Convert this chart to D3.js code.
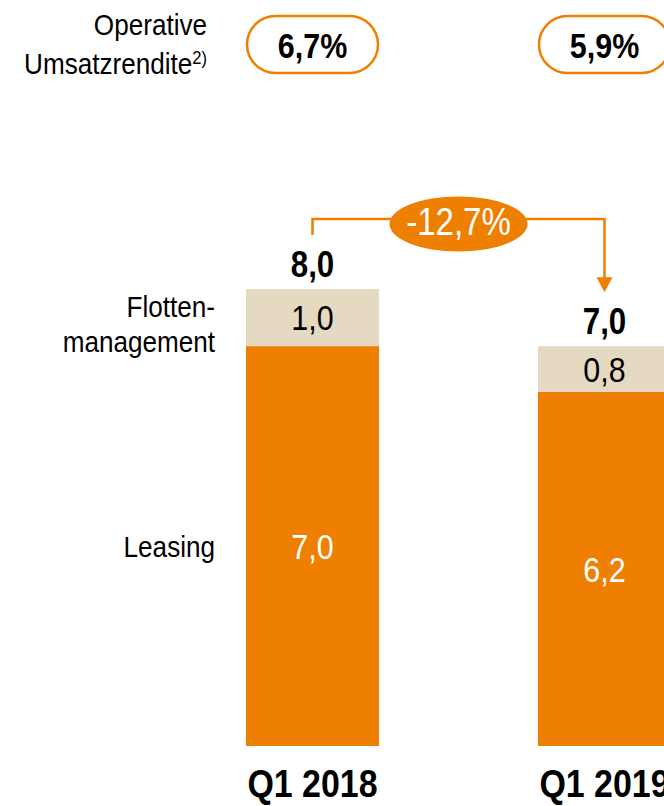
<!DOCTYPE html>
<html>
<head>
<meta charset="utf-8">
<script src="https://cdn.jsdelivr.net/npm/d3@7"></script>
<style>
  body { margin: 0; background: #fff; }
  svg { display: block; font-family: "Liberation Sans", Arial, sans-serif; }
</style>
</head>
<body>
<svg id="chart" width="664" height="806"></svg>
<script>
var categories = ["Q1 2018", "Q1 2019"];
var leasing = [7.0, 6.2];
var flotten = [1.0, 0.8];
var totals = [8.0, 7.0];
var margins = ["6,7%", "5,9%"];
var changeLabel = "-12,7%";
var segmentNames = ["Leasing", ["Flotten-", "management"]];
var marginTitle = ["Operative", "Umsatzrendite"];

var orange = "#ee7f00",
  beige = "#e5d9c2";

// no narrow font installed, so squeeze the regular one
var sx = 0.87;
var at = (px, py) => "translate(" + px + "," + py + ") scale(" + sx + ",1)";

var fmt = function(v) { return v.toFixed(1).replace(".", ","); };

var svg = d3.select("#chart");

var x = d3.scaleBand()
  .domain(categories)
  .range([246, 671])
  .paddingInner(0.5445)
  .paddingOuter(0);

var y = d3.scaleLinear()
  .domain([0, 8])
  .range([746, 289]);

var rows = categories.map((c, i) => ({
  cat: c,
  leasing: leasing[i],
  flotten: flotten[i],
  total: totals[i],
  margin: margins[i]
}));

// bars
var segs = [];
rows.forEach(r => {
  segs.push({ cat: r.cat, y0: 0, y1: r.leasing, fill: orange, text: "#fff", v: r.leasing });
  segs.push({ cat: r.cat, y0: r.leasing, y1: r.leasing + r.flotten, fill: beige, text: "#000", v: r.flotten });
});

svg.selectAll("rect.seg")
  .data(segs)
  .enter().append("rect")
    .attr("class", "seg")
    .attr("x", d => x(d.cat))
    .attr("y", d => y(d.y1))
    .attr("width", x.bandwidth())
    .attr("height", d => y(d.y0) - y(d.y1))
    .attr("fill", d => d.fill);

svg.selectAll("text.seglabel")
  .data(segs)
  .enter().append("text")
    .attr("class", "seglabel")
    .attr("transform", d => at(x(d.cat) + x.bandwidth() / 2, (y(d.y0) + y(d.y1)) / 2))
    .attr("dy", "0.36em")
    .attr("text-anchor", "middle")
    .attr("fill", d => d.text)
    .style("font-size", "35px")
    .text(d => fmt(d.v));

// totals
svg.selectAll("text.total")
  .data(rows)
  .enter().append("text")
    .attr("class", "total")
    .attr("transform", d => at(x(d.cat) + x.bandwidth() / 2, y(d.total) - 12))
    .attr("text-anchor", "middle")
    .style("font-size", "36px")
    .style("font-weight", "bold")
    .text(d => fmt(d.total));

// category axis labels
svg.selectAll("text.cat")
  .data(rows)
  .enter().append("text")
    .attr("class", "cat")
    .attr("transform", d => at(x(d.cat) + x.bandwidth() / 2, 797))
    .attr("text-anchor", "middle")
    .style("font-size", "39px")
    .style("font-weight", "bold")
    .text(d => d.cat);

// margin pills
var pillH = 57;
var pills = svg.selectAll("g.pill")
  .data(rows)
  .enter().append("g")
    .attr("class", "pill")
    .attr("transform", d => "translate(" + x(d.cat) + ",16)");

pills.append("rect")
  .attr("x", 1)
  .attr("y", 0)
  .attr("width", x.bandwidth() - 2)
  .attr("height", pillH)
  .attr("rx", pillH / 2)
  .attr("fill", "#fff")
  .attr("stroke", orange)
  .attr("stroke-width", 2.5);

pills.append("text")
  .attr("transform", at(x.bandwidth() / 2, 42))
  .attr("text-anchor", "middle")
  .style("font-size", "35px")
  .style("font-weight", "bold")
  .text(d => d.margin);

// left labels
svg.append("text")
  .attr("transform", at(207, 35))
  .attr("text-anchor", "end")
  .style("font-size", "30px")
  .text(marginTitle[0]);

var um = svg.append("text")
  .attr("transform", at(207, 74))
  .attr("text-anchor", "end")
  .style("font-size", "30px");
um.append("tspan").text(marginTitle[1]);
um.append("tspan")
  .attr("dy", -10)
  .style("font-size", "19px")
  .text("2)");

var leasingMid = (y(0) + y(leasing[0])) / 2;
svg.append("text")
  .attr("transform", at(215, leasingMid))
  .attr("dy", "0.36em")
  .attr("text-anchor", "end")
  .style("font-size", "30px")
  .text(segmentNames[0]);

svg.append("text")
  .attr("transform", at(215, 317))
  .attr("text-anchor", "end")
  .style("font-size", "30px")
  .text(segmentNames[1][0]);
svg.append("text")
  .attr("transform", at(215, 352))
  .attr("text-anchor", "end")
  .style("font-size", "30px")
  .text(segmentNames[1][1]);

// change arrow
var x1 = x(categories[0]) + x.bandwidth() / 2,
  x2 = x(categories[1]) + x.bandwidth() / 2,
  yTop = 219,
  yStart = y(totals[0]) - 54,
  yTip = y(totals[1]) - 54;

svg.append("path")
  .attr("d", "M" + x1 + "," + yStart + "V" + yTop + "H" + x2 + "V" + (yTip - 14))
  .attr("fill", "none")
  .attr("stroke", orange)
  .attr("stroke-width", 2.5);

svg.append("path")
  .attr("d", "M" + (x2 - 8) + "," + (yTip - 15) + "L" + (x2 + 8) + "," + (yTip - 15) + "L" + x2 + "," + yTip + "Z")
  .attr("fill", orange);

var ex = (x1 + x2) / 2;
svg.append("ellipse")
  .attr("cx", ex)
  .attr("cy", 224)
  .attr("rx", 69)
  .attr("ry", 27.5)
  .attr("fill", orange);

svg.append("text")
  .attr("transform", at(ex, 235))
  .attr("text-anchor", "middle")
  .attr("fill", "#fff")
  .style("font-size", "38px")
  .text(changeLabel);
</script>
</body>
</html>
